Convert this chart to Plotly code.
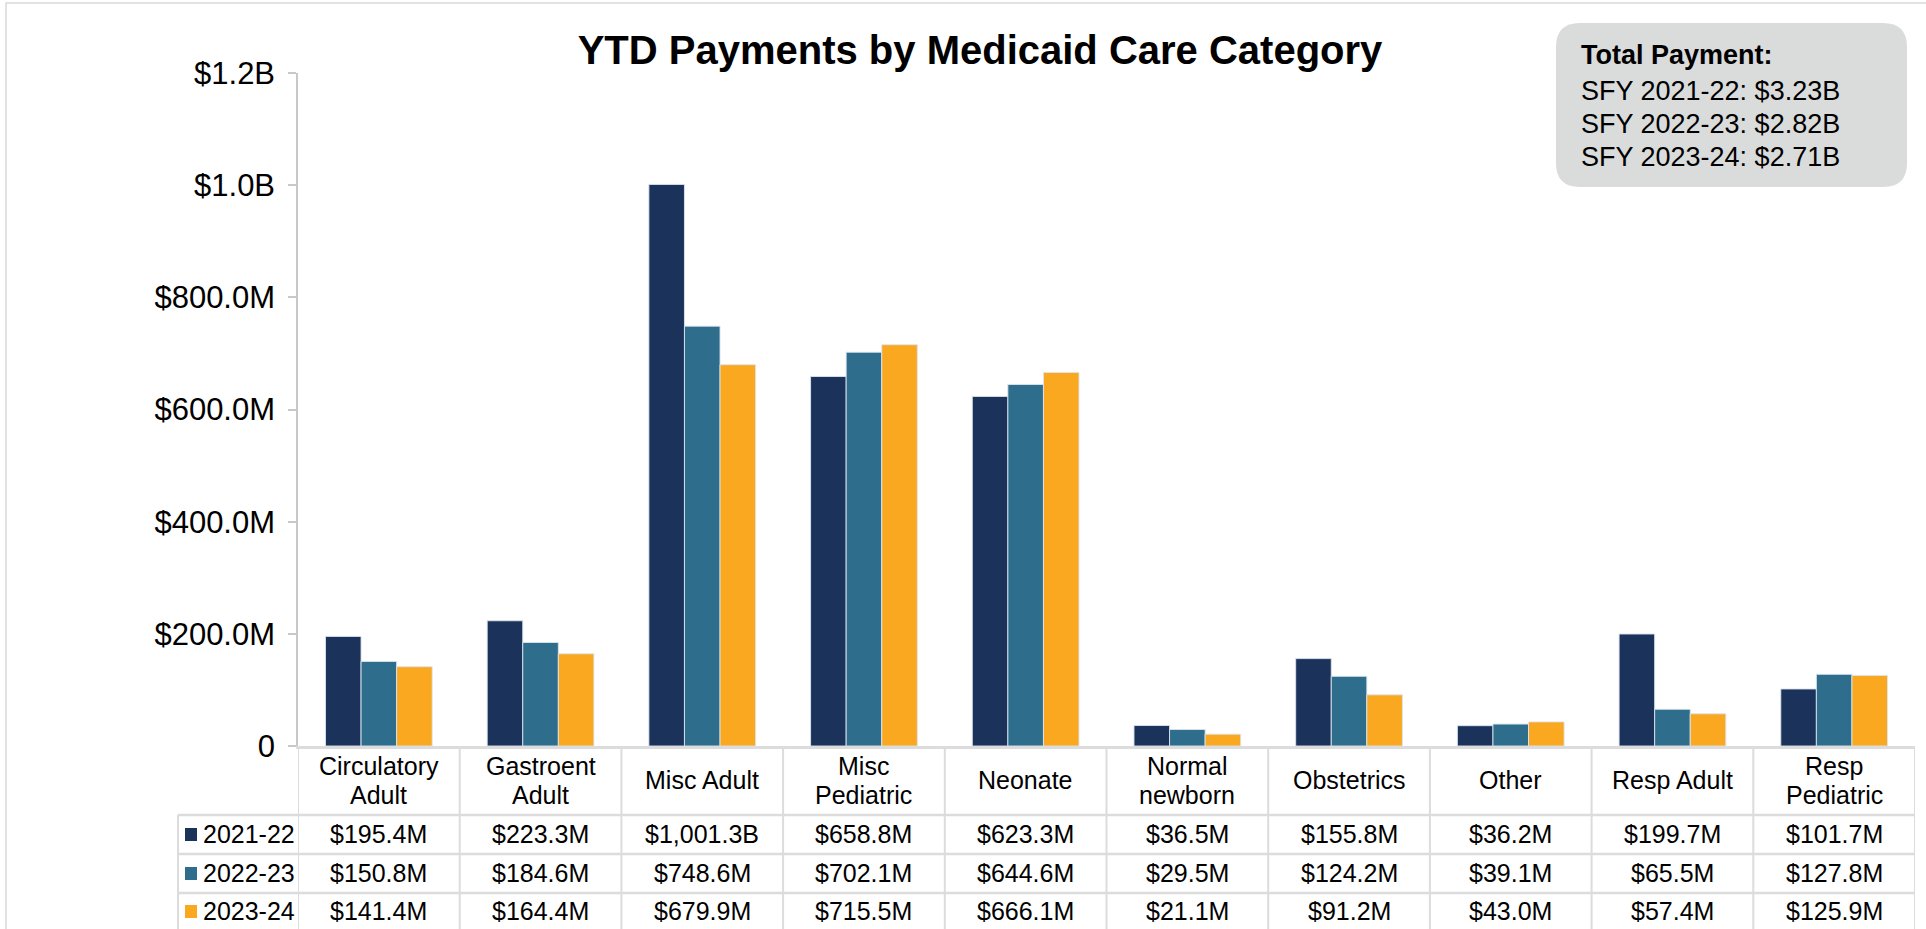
import plotly.graph_objects as go

categories = ['Circulatory Adult', 'Gastroent Adult', 'Misc Adult', 'Misc Pediatric', 'Neonate',
              'Normal newborn', 'Obstetrics', 'Other', 'Resp Adult', 'Resp Pediatric']
# header cell lines (one or two per category)
header_lines = [['Circulatory', 'Adult'], ['Gastroent', 'Adult'], ['Misc Adult'], ['Misc', 'Pediatric'],
                ['Neonate'], ['Normal', 'newborn'], ['Obstetrics'], ['Other'], ['Resp Adult'],
                ['Resp', 'Pediatric']]

years = ['2021-22', '2022-23', '2023-24']
# payments in $ millions
pay_2021_22 = [195.4, 223.3, 1001.3, 658.8, 623.3, 36.5, 155.8, 36.2, 199.7, 101.7]
pay_2022_23 = [150.8, 184.6, 748.6, 702.1, 644.6, 29.5, 124.2, 39.1, 65.5, 127.8]
pay_2023_24 = [141.4, 164.4, 679.9, 715.5, 666.1, 21.1, 91.2, 43.0, 57.4, 125.9]

totals = ['$3.23B', '$2.82B', '$2.71B']

y_tickvals = [0, 200, 400, 600, 800, 1000, 1200]
y_ticktext = ['0', '$200.0M', '$400.0M', '$600.0M', '$800.0M', '$1.0B', '$1.2B']

colors = ['#1b325b', '#2e6e8c', '#f9a820']
font_family = 'Liberation Sans, Arial, sans-serif'
line_col = '#dcdcdc'

# plot area in pixels
L, R, T, B = 298, 1915, 73, 746
W, H = R - L, B - T


def pxx(x):
    return (x - L) / W


def pyy(y):
    return (B - y) / H


def fmt_money(v):
    # source labels anything over 1000M with a "B" suffix but keeps the millions number
    if v >= 1000:
        return '${:,.1f}B'.format(v)
    return '${:.1f}M'.format(v)


def rounded_path(x0, y0, x1, y1, r):
    pts = [
        ('M', x0 + r, y0), ('L', x1 - r, y0), ('Q', x1, y0, x1, y0 + r),
        ('L', x1, y1 - r), ('Q', x1, y1, x1 - r, y1), ('L', x0 + r, y1),
        ('Q', x0, y1, x0, y1 - r), ('L', x0, y0 + r), ('Q', x0, y0, x0 + r, y0),
    ]
    out = []
    for p in pts:
        cmd = p[0]
        coords = p[1:]
        s = cmd + ' ' + ' '.join('{:.5f},{:.5f}'.format(pxx(coords[i]), pyy(coords[i + 1]))
                                 for i in range(0, len(coords), 2))
        out.append(s)
    return ' '.join(out) + ' Z'


series = [pay_2021_22, pay_2022_23, pay_2023_24]

fig = go.Figure()
for i_year in range(len(years)):
    fig.add_trace(go.Bar(x=categories, y=series[i_year], name=years[i_year],
                         marker=dict(color=colors[i_year], line=dict(color='rgba(220,228,238,0.9)', width=1))))

shapes = []
annotations = []

# outer frame
shapes.append(dict(type='rect', xref='paper', yref='paper', x0=pxx(6), x1=pxx(1960), y0=pyy(3), y1=pyy(960),
                   line=dict(color='#d9d9d9', width=1.5), layer='below'))

# total payment box
shapes.append(dict(type='path', xref='paper', yref='paper', path=rounded_path(1556, 23, 1907, 187, 24),
                   fillcolor='#dadbdb', line=dict(width=0)))
box_lines = ['<b>Total Payment:</b>'] + ['SFY {}: {}'.format(years[i], totals[i]) for i in range(3)]
box_y = [55, 91, 124, 157]
for i_line in range(4):
    annotations.append(dict(xref='paper', yref='paper', x=pxx(1579), y=pyy(box_y[i_line]), text=box_lines[i_line],
                            xanchor='left', yanchor='middle', showarrow=False,
                            font=dict(size=27, color='black', family=font_family)))

# data table under the axis
row_edges = [815, 854, 893]
row_mid = [834, 873, 911]
for i in range(len(categories) + 1):
    shapes.append(dict(type='line', xref='x', yref='paper', x0=i - 0.5, x1=i - 0.5, y0=pyy(746), y1=pyy(935),
                       line=dict(color=line_col, width=2)))
shapes.append(dict(type='line', xref='paper', yref='paper', x0=pxx(178), x1=pxx(178), y0=pyy(815), y1=pyy(935),
                   line=dict(color=line_col, width=2)))
for y_edge in row_edges:
    shapes.append(dict(type='line', xref='paper', yref='paper', x0=pxx(178), x1=pxx(1915), y0=pyy(y_edge),
                       y1=pyy(y_edge), line=dict(color=line_col, width=2.5)))

for i_cat, cat in enumerate(categories):
    if len(header_lines[i_cat]) == 2:
        header_y = [766, 795]
    else:
        header_y = [780]
    for i_line, txt in enumerate(header_lines[i_cat]):
        annotations.append(dict(xref='x', yref='paper', x=cat, y=pyy(header_y[i_line]), text=txt,
                                showarrow=False, xanchor='center', yanchor='middle',
                                font=dict(size=25, color='black', family=font_family)))
    for i_year in range(len(years)):
        annotations.append(dict(xref='x', yref='paper', x=cat, y=pyy(row_mid[i_year]),
                                text=fmt_money(series[i_year][i_cat]),
                                showarrow=False, xanchor='center', yanchor='middle',
                                font=dict(size=25, color='black', family=font_family)))

for i_year in range(len(years)):
    shapes.append(dict(type='rect', xref='paper', yref='paper', x0=pxx(185), x1=pxx(197),
                       y0=pyy(row_mid[i_year] - 6), y1=pyy(row_mid[i_year] + 7),
                       fillcolor=colors[i_year], line=dict(width=0)))
    annotations.append(dict(xref='paper', yref='paper', x=pxx(201), y=pyy(row_mid[i_year]), text=years[i_year],
                            showarrow=False, xanchor='left', yanchor='middle',
                            font=dict(size=25, color='black', family=font_family)))

fig.update_layout(
    width=1926, height=929,
    margin=dict(l=L, r=1926 - R, t=T, b=929 - B, autoexpand=False),
    paper_bgcolor='white', plot_bgcolor='white',
    barmode='group', bargap=0.34, bargroupgap=0,
    showlegend=False,
    title=dict(text='<b>YTD Payments by Medicaid Care Category</b>', x=980 / 1926, xanchor='center',
               y=1 - 50 / 929, yanchor='middle', font=dict(size=40, color='black', family=font_family)),
    font=dict(family=font_family, color='black'),
    shapes=shapes,
    annotations=annotations,
)
fig.update_xaxes(range=[-0.5, len(categories) - 0.5], showticklabels=False, ticks='', showgrid=False,
                 showline=True, linecolor=line_col, linewidth=2.5, zeroline=False)
fig.update_yaxes(range=[0, 1200], tickvals=y_tickvals, ticktext=y_ticktext, showgrid=False, zeroline=False,
                 showline=True, linecolor='#c8c8c8', linewidth=1.5, ticks='outside', ticklen=8,
                 tickcolor='#c8c8c8', tickwidth=1.5, ticklabelstandoff=7,
                 tickfont=dict(size=31, color='black', family=font_family))

# the page body has an 8px default margin, drop it so pixels line up with the layout
fig.write_html('out.html', config={'displayModeBar': False},
               post_script="document.body.style.margin='0';")
